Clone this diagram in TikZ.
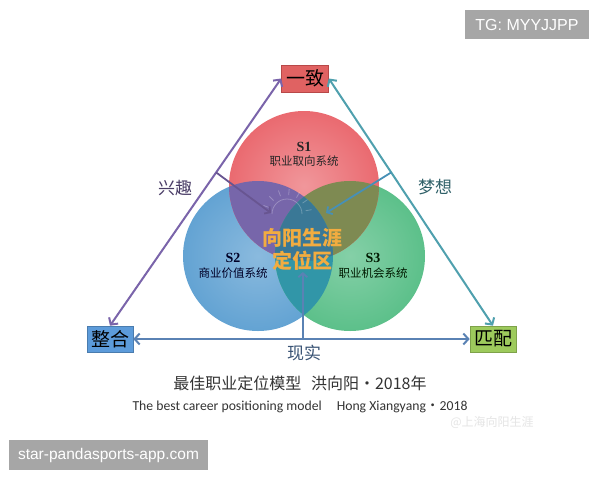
\documentclass[tikz,border=0pt]{standalone}
\usepackage{fontspec}
\setmainfont{Liberation Serif}
\newfontfamily\cjk{Noto Sans CJK SC}
\newfontfamily\capfont{Carlito}
\newfontfamily\wmfont{Liberation Sans}
\usetikzlibrary{arrows.meta,calc}
\definecolor{cred}{HTML}{EA6A70}
\definecolor{cblue}{HTML}{63A3D3}
\definecolor{cgreen}{HTML}{5CC08A}
\definecolor{crb}{HTML}{7766AA}
\definecolor{crg}{HTML}{7E8A52}
\definecolor{cbg}{HTML}{3196A8}
\definecolor{call}{HTML}{3A7896}
\definecolor{boxred}{HTML}{E06262}
\definecolor{boxredd}{HTML}{B84848}
\definecolor{boxblue}{HTML}{5C9BDA}
\definecolor{boxgreen}{HTML}{9DCA5C}
\definecolor{lpurple}{HTML}{7A64AA}
\definecolor{lteal}{HTML}{4FA0AE}
\definecolor{lsteel}{HTML}{5A82B4}
\definecolor{centertxt}{HTML}{F2AC40}
\definecolor{wmgray}{HTML}{A6A6A6}
\begin{document}
\begin{tikzpicture}[x=1pt,y=-1pt,
  box/.style={draw, line width=0.6pt, minimum width=47pt, minimum height=27pt, inner sep=0pt,
    font=\cjk\fontsize{19}{19}\selectfont, text=black},
  barb/.style={line width=2pt, {Straight Barb[length=5pt,width=11pt]}-{Straight Barb[length=5pt,width=11pt]}},
  inarrow/.style={line width=1.8pt, -{Straight Barb[length=4pt,width=9pt]}},
  sname/.style={font=\bfseries\fontsize{14}{14}\selectfont, inner sep=0pt},
  stext/.style={font=\cjk\fontsize{11.5}{12}\selectfont, inner sep=0pt},
  side/.style={font=\cjk\fontsize{17}{17}\selectfont, inner sep=0pt},
  centerlab/.style={font=\cjk\bfseries\fontsize{20}{20}\selectfont, text=centertxt, inner sep=0pt},
  tag/.style={fill=wmgray, inner sep=0pt, text=white}
]
\useasboundingbox (0,0) rectangle (600,480);
\fill[white] (0,0) rectangle (600,480);

% circles
\coordinate (c1) at (304,186);
\coordinate (c2) at (258,256);
\coordinate (c3) at (350,256);
\shade[inner color=cblue!75!white, outer color=cblue] (c2) circle[radius=75];
\shade[inner color=cgreen!75!white, outer color=cgreen] (c3) circle[radius=75];
\shade[inner color=cred!70!white, outer color=cred] (c1) circle[radius=75];
\begin{scope}
  \clip (c1) circle[radius=75];
  \fill[crb] (c2) circle[radius=75];
  \fill[crg] (c3) circle[radius=75];
\end{scope}
\begin{scope}
  \clip (c2) circle[radius=75];
  \fill[cbg] (c3) circle[radius=75];
\end{scope}
\begin{scope}
  \clip (c1) circle[radius=75];
  \clip (c2) circle[radius=75];
  \fill[call] (c3) circle[radius=75];
\end{scope}

% faint sun sketch
\draw[white, opacity=0.25, line width=0.8pt] (272,214) arc[start angle=180, end angle=360, radius=15];
\foreach \a in {200,225,250,275,300,325,350}
  \draw[white, opacity=0.25, line width=0.8pt] ($(287,214)+(\a:19)$) -- ($(287,214)+(\a:25)$);

% corner boxes
\node[box, fill=boxred, draw=boxredd] (yizhi) at (305,78.5) {一致};
\node[box, fill=boxblue, draw=boxblue!80!black, minimum width=46pt, minimum height=26pt] (zhenghe) at (110,339) {整合};
\node[box, fill=boxgreen, draw=boxgreen!80!black, minimum width=46pt, minimum height=26pt] (pipei) at (493,339) {匹配};

% triangle arrows
\draw[barb, lpurple] (zhenghe.north) -- (yizhi.west);
\draw[barb, lteal] (yizhi.east) -- (pipei.north);
\draw[barb, lsteel] (zhenghe.east) -- (pipei.west);

% inner arrows
\coordinate (pL) at ($(zhenghe.north)!0.62!(yizhi.west)$);
\coordinate (eL) at (271,213);
\coordinate (pR) at ($(yizhi.east)!0.38!(pipei.north)$);
\coordinate (eR) at (326,213);
\coordinate (pB) at ($(zhenghe.east)!0.504!(pipei.west)$);
\coordinate (eB) at ($(pB)+(0,-67)$);
\draw[inarrow, lpurple!85!black] (pL) -- (eL);
\draw[inarrow, lteal!90!blue] (pR) -- (eR);
\draw[line width=1.8pt, lsteel, -{Straight Barb[length=4pt,width=9pt]}] (pB) -- (eB);

% circle labels
\node[sname, text=black!85] (s1) at (304,147) {S1};
\node[stext, text=black!85] (s1t) at (304,161) {职业取向系统};
\node[sname, text=black!85!blue] (s2) at (233,258) {S2};
\node[stext, text=black!85!blue] (s2t) at (233,273) {商业价值系统};
\node[sname, text=black!90!green] (s3) at (373,258) {S3};
\node[stext, text=black!90!green] (s3t) at (373,273) {职业机会系统};

% center label
\node[centerlab] (cz1) at (302,238) {向阳生涯};
\node[centerlab] (cz2) at (302,261) {定位区};

% side labels
\node[side, text=lpurple!60!black] (xq) at (175,188) {兴趣};
\node[side, text=lteal!60!black] (mx) at (435,187) {梦想};
\node[side, text=lsteel!65!black] (xs) at (304,353) {现实};

% captions
\node[font=\cjk\fontsize{16}{17}\selectfont, text=black!80, inner sep=0pt] (cap1) at (300,383) {最佳职业定位模型\hspace{0.6em}洪向阳{・}2018年};
\node[font=\capfont\fontsize{13.7}{14}\selectfont, text=black!80, inner sep=0pt] (cap2) at (300,407) {The best career positioning model\hspace{1.1em}Hong Xiangyang{\cjk ・}2018};
\node[font=\cjk\fontsize{12}{12}\selectfont, text=black!10, inner sep=0pt] (wm) at (492,422) {@上海向阳生涯};

% tags
\node[tag, minimum width=124pt, minimum height=29pt, font=\wmfont\fontsize{16}{16}\selectfont] (tg) at (527,24.5) {TG: MYYJJPP};
\node[tag, minimum width=199pt, minimum height=30pt, font=\wmfont\fontsize{15.5}{16}\selectfont] (star) at (108.5,455) {star-pandasports-app.com};
\end{tikzpicture}
\end{document}
